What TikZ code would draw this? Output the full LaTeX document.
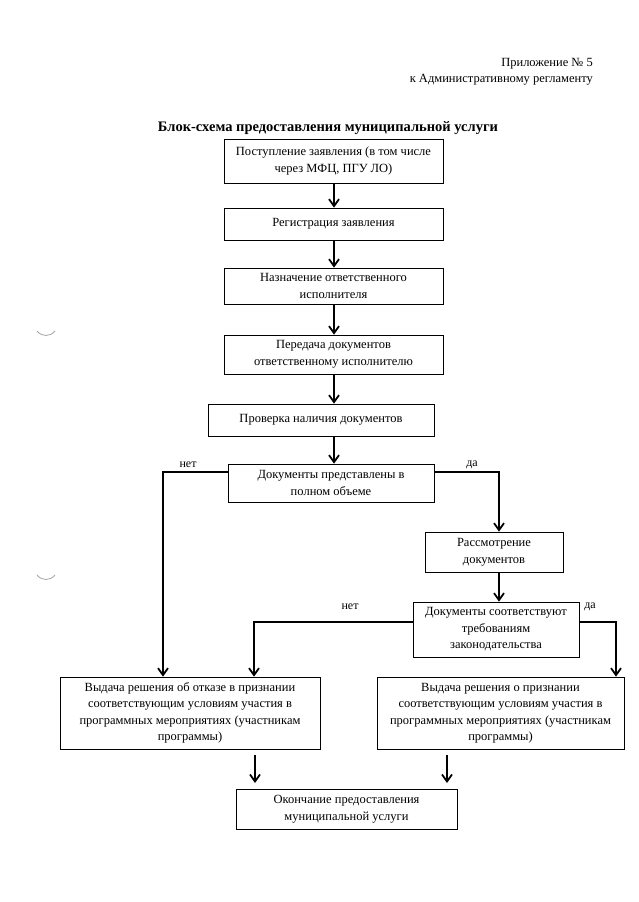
\documentclass[tikz,border=0pt]{standalone}
\usepackage{fontspec}
\setmainfont{Liberation Serif}
\usetikzlibrary{arrows.meta}
\begin{document}
\begin{tikzpicture}[x=1pt,y=-1pt,
  box/.style={draw, line width=0.7pt, align=center, inner sep=0pt,
    font=\fontsize{12.5}{16.5}\selectfont},
  conn/.style={line width=2pt, -{Straight Barb[length=7pt,width=10pt,line width=1.8pt]}},
  lab/.style={font=\fontsize{12}{13}\selectfont, inner sep=1pt},
  hdr/.style={anchor=east, inner sep=0pt, font=\fontsize{12.5}{14}\selectfont},
  punch/.style={draw=gray!70, line width=0.8pt}]
\useasboundingbox (0,0) rectangle (639,902);
% header
\node[hdr] (h1) at (593,64) {Приложение № 5};
\node[hdr] (h2) at (593,80) {к Административному регламенту};
\node[inner sep=0pt, font=\bfseries\fontsize{14.5}{16}\selectfont] (title) at (328,128) {Блок-схема предоставления муниципальной услуги};
% boxes
\node[box, minimum width=219pt, minimum height=44pt] (b1) at (333.5,161) {Поступление заявления (в том числе\\через МФЦ, ПГУ ЛО)};
\node[box, minimum width=219pt, minimum height=32pt] (b2) at (333.5,224) {Регистрация заявления};
\node[box, minimum width=219pt, minimum height=36pt] (b3) at (333.5,286) {Назначение ответственного\\исполнителя};
\node[box, minimum width=219pt, minimum height=39pt] (b4) at (333.5,354.5) {Передача документов\\ответственному исполнителю};
\node[box, minimum width=226pt, minimum height=32pt] (b5) at (321,420) {Проверка наличия документов};
\node[box, minimum width=206pt, minimum height=38pt] (b6) at (331,483) {Документы представлены в\\полном объеме};
\node[box, minimum width=138pt, minimum height=40pt] (b7) at (494,552) {Рассмотрение\\документов};
\node[box, minimum width=166pt, minimum height=55pt] (b8) at (496,629.5) {Документы соответствуют\\требованиям\\законодательства};
\node[box, minimum width=260pt, minimum height=72pt] (b9) at (190,713) {Выдача решения об отказе в признании\\соответствующим условиям участия в\\программных мероприятиях (участникам\\программы)};
\node[box, minimum width=247pt, minimum height=72pt] (b10) at (500.5,713) {Выдача решения о признании\\соответствующим условиям участия в\\программных мероприятиях (участникам\\программы)};
\node[box, minimum width=221pt, minimum height=40pt] (b11) at (346.5,809) {Окончание предоставления\\муниципальной услуги};
% connectors
\coordinate (ax) at (334,0);
\draw[conn] (b1.south -| ax) -- (b2.north -| ax);
\draw[conn] (b2.south -| ax) -- (b3.north -| ax);
\draw[conn] (b3.south -| ax) -- (b4.north -| ax);
\draw[conn] (b4.south -| ax) -- (b5.north -| ax);
\draw[conn] (b5.south -| ax) -- (b6.north -| ax);
\coordinate (nl) at (163,472);
\coordinate (nr) at (499,472);
\draw[conn] (b6.west |- nl) -- (nl) -- (nl |- b9.north);
\draw[conn] (b6.east |- nr) -- (nr) -- (nr |- b7.north);
\draw[conn] (b7.south -| nr) -- (nr |- b8.north);
\coordinate (ml) at (254,622);
\coordinate (mr) at (616,622);
\draw[conn] (b8.west |- ml) -- (ml) -- (ml |- b9.north);
\draw[conn] (b8.east |- mr) -- (mr) -- (mr |- b10.north);
\coordinate (e1) at (255,783);
\coordinate (e2) at (447,783);
\draw[conn] (b9.south -| e1) ++(0,6) -- (e1);
\draw[conn] (b10.south -| e2) ++(0,6) -- (e2);
% labels
\node[lab] (l1) at (188,465) {нет};
\node[lab] (l2) at (472,465) {да};
\node[lab] (l3) at (350,607) {нет};
\node[lab] (l4) at (590,607) {да};
% punch marks
\draw[punch] (37,331) .. controls (42,337) and (50,337) .. (55,331);
\draw[punch] (37,575) .. controls (42,581) and (50,581) .. (55,575);
\end{tikzpicture}
\end{document}
